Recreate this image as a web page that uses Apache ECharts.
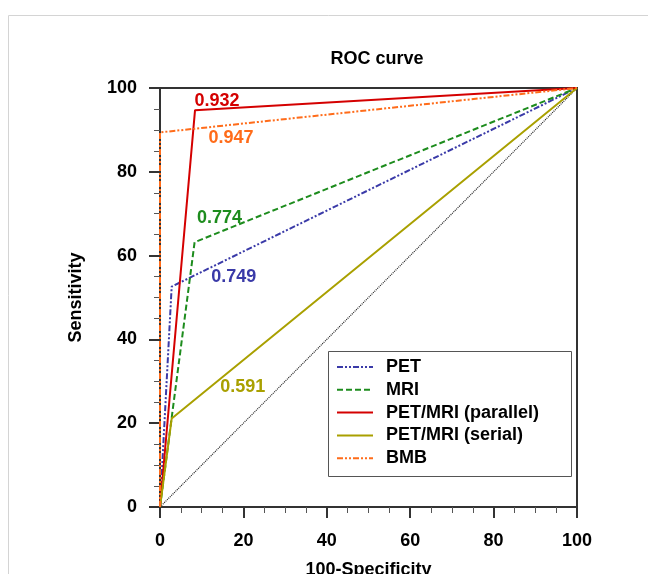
<!DOCTYPE html>
<html>
<head>
    <title>ROC curve</title>
    <meta charset="utf-8">
    <script src="https://cdn.jsdelivr.net/npm/echarts@6/dist/echarts.min.js"></script>
    <style>
        body { margin: 0; background: #fff; }
    </style>
</head>
<body>
    <div id="main" style="width: 648px;height:574px;"></div>
    <script type="text/javascript">
        // ROC points: [100-Specificity, Sensitivity]
        var pet = [[0, 0], [2.8, 52.6], [100, 100]];
        var mri = [[0, 0], [8.3, 63.2], [100, 100]];
        var parallel = [[0, 0], [8.4, 94.7], [100, 100]];
        var serial = [[0, 0], [2.8, 21.1], [100, 100]];
        var bmb = [[0, 0], [0, 89.4], [100, 100]];
        var diagonal = [[0, 0], [100, 100]];

        var seriesNames = ['PET', 'MRI', 'PET/MRI (parallel)', 'PET/MRI (serial)', 'BMB'];
        var aucValues = ['0.749', '0.774', '0.932', '0.591', '0.947'];
        var xTicks = [0, 20, 40, 60, 80, 100];
        var yTicks = [0, 20, 40, 60, 80, 100];

        var colors = ['#3a3aa8', '#1d8c1d', '#d40000', '#a9a000', '#ff6c1a'];
        var dashes = [[6, 2, 2, 2, 2, 2], [6, 3], 'solid', 'solid', [6, 2, 2, 2, 2, 2]];
        var curves = [pet, mri, parallel, serial, bmb];
        // where each AUC label sits relative to its curve's corner point
        var labelOffsets = [[62, -10], [25, -24], [22, -9], [71, -32], [71, 6]];

        var font = 'Liberation Sans, Arial, sans-serif';
        var myChart = echarts.init(document.getElementById('main'));

        var series = curves.map(function (d, i) {
            return {
                name: seriesNames[i],
                type: 'line',
                data: d,
                symbol: 'none',
                z: 3 + i,
                lineStyle: { color: colors[i], width: 2, type: dashes[i] },
                itemStyle: { color: colors[i] },
                markPoint: {
                    symbol: 'circle',
                    symbolSize: 1,
                    itemStyle: { color: 'rgba(0,0,0,0)' },
                    label: {
                        show: true,
                        position: 'inside',
                        offset: labelOffsets[i],
                        formatter: aucValues[i],
                        color: colors[i],
                        fontSize: 18,
                        fontWeight: 'bold',
                        fontFamily: font
                    },
                    data: [{ coord: d[1] }]
                }
            };
        });
        series.unshift({
            name: 'ref',
            type: 'line',
            data: diagonal,
            symbol: 'none',
            silent: true,
            z: 2,
            lineStyle: { color: '#222', width: 1.2, type: [1, 1] }
        });

        var option = {
            animation: false,
            title: {
                text: 'ROC curve',
                left: 372,
                textAlign: 'center',
                top: 45,
                textStyle: { fontSize: 18, fontWeight: 'bold', color: '#000', fontFamily: font }
            },
            graphic: [{
                type: 'rect',
                z: -10,
                shape: { x: 8.5, y: 15.5, width: 700, height: 600 },
                style: { fill: 'none', stroke: '#d4d4d4', lineWidth: 1 }
            }, {
                type: 'rect',
                z: 10,
                shape: { x: 328.5, y: 351.5, width: 243, height: 125 },
                style: { fill: '#fff', stroke: '#555', lineWidth: 1 }
            }],
            legend: {
                data: seriesNames,
                orient: 'vertical',
                left: 336,
                top: 358,
                z: 20,
                itemWidth: 36,
                itemHeight: 12,
                itemGap: 4.8,
                padding: 0,
                itemStyle: { opacity: 0 },
                textStyle: { fontSize: 18, fontWeight: 'bold', color: '#000', fontFamily: font, padding: [0, 0, 0, 8] }
            },
            grid: {
                left: 160,
                right: 71,
                top: 88,
                bottom: 67,
                outerBoundsMode: 'none',
                containLabel: false,
                show: true,
                borderColor: '#333',
                borderWidth: 2,
                backgroundColor: 'rgba(0,0,0,0)'
            },
            xAxis: {
                type: 'value',
                min: 0,
                max: 100,
                interval: 20,
                name: '100-Specificity',
                nameLocation: 'middle',
                nameGap: 54,
                nameTextStyle: { fontSize: 18, fontWeight: 'bold', color: '#000', fontFamily: font },
                axisLine: { lineStyle: { color: '#333', width: 2 } },
                axisTick: { show: true, inside: false, length: 11, lineStyle: { color: '#333', width: 2 } },
                minorTick: { show: true, splitNumber: 4, length: 6, lineStyle: { color: '#555', width: 1 } },
                splitLine: { show: false },
                axisLabel: {
                    margin: 25, fontSize: 18, fontWeight: 'bold', color: '#000', fontFamily: font,
                    formatter: function (v) { return xTicks.indexOf(v) >= 0 ? String(v) : ''; }
                }
            },
            yAxis: {
                type: 'value',
                min: 0,
                max: 100,
                interval: 20,
                name: 'Sensitivity',
                nameLocation: 'middle',
                nameGap: 75,
                nameTextStyle: { fontSize: 18, fontWeight: 'bold', color: '#000', fontFamily: font },
                axisLine: { lineStyle: { color: '#333', width: 2 } },
                axisTick: { show: true, inside: false, length: 11, lineStyle: { color: '#333', width: 2 } },
                minorTick: { show: true, splitNumber: 4, length: 6, lineStyle: { color: '#555', width: 1 } },
                splitLine: { show: false },
                axisLabel: {
                    margin: 23, fontSize: 18, fontWeight: 'bold', color: '#000', fontFamily: font,
                    formatter: function (v) { return yTicks.indexOf(v) >= 0 ? String(v) : ''; }
                }
            },
            series: series
        };

        myChart.setOption(option);
    </script>
</body>
</html>
